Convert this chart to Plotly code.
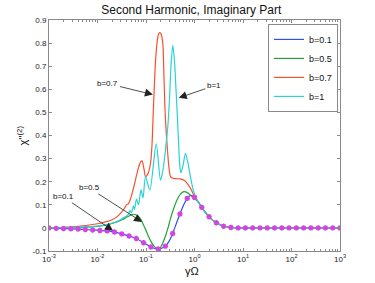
import numpy as np
import plotly.graph_objects as go

# ---------------- data ----------------
tail_x = [1.2, 1.41, 2.0, 2.82, 3.98, 5.62, 7.94, 1000]
tail_y = [0.112, 0.089, 0.048, 0.022, 0.007, 0.002, 0.0, 0.0]

b01_x = [0.001, 0.00141, 0.002, 0.00282, 0.00398, 0.00562, 0.00794, 0.0112, 0.0158,
         0.0224, 0.0316, 0.0447, 0.0631, 0.0891, 0.126, 0.15, 0.178, 0.21, 0.251,
         0.3, 0.355, 0.42, 0.501, 0.6, 0.708, 0.83, 0.93, 1.0] + tail_x
b01_y = [0.0, -0.002, -0.003, -0.004, -0.005, -0.007, -0.009, -0.011, -0.013,
         -0.018, -0.026, -0.035, -0.046, -0.064, -0.083, -0.089, -0.091, -0.088, -0.079,
         -0.057, -0.024, 0.018, 0.06, 0.1, 0.128, 0.141, 0.138, 0.132] + tail_y

b05_x = [0.001, 0.0032, 0.01, 0.0161, 0.0204, 0.0258, 0.0327, 0.0396, 0.0479, 0.0552,
         0.0637, 0.0734, 0.0828, 0.0888, 0.097, 0.106, 0.1238, 0.1428, 0.164, 0.181,
         0.199, 0.222, 0.2522, 0.2843, 0.32, 0.3743, 0.4461, 0.514, 0.6015, 0.684,
         0.788, 0.953] + tail_x
b05_y = [0.0, 0.002, 0.007, 0.014, 0.02, 0.027, 0.036, 0.046, 0.055, 0.059,
         0.056, 0.045, 0.028, 0.012, -0.005, -0.024, -0.055, -0.076, -0.089, -0.09,
         -0.084, -0.065, -0.035, 0.0, 0.04, 0.085, 0.125, 0.146, 0.157, 0.155,
         0.145, 0.13] + tail_y

b07_x = [0.001, 0.0032, 0.01, 0.0161, 0.0204, 0.0258, 0.0313, 0.036, 0.0396, 0.0436,
         0.0502, 0.0579, 0.0668, 0.077, 0.0828, 0.091, 0.0977, 0.11, 0.1238, 0.133,
         0.1394, 0.1462, 0.157, 0.170, 0.181, 0.1924, 0.2056, 0.222, 0.2316, 0.2404,
         0.2522, 0.2735, 0.298, 0.32, 0.3571, 0.4058, 0.514, 0.622, 0.752, 0.867,
         1.0] + tail_x
b07_y = [0.001, 0.005, 0.018, 0.028, 0.036, 0.05, 0.068, 0.085, 0.1, 0.105,
         0.14, 0.19, 0.245, 0.285, 0.29, 0.255, 0.222, 0.235, 0.28, 0.36,
         0.47, 0.58, 0.72, 0.806, 0.838, 0.845, 0.838, 0.8, 0.7, 0.58,
         0.468, 0.352, 0.26, 0.222, 0.215, 0.213, 0.212, 0.205, 0.185, 0.163,
         0.135] + tail_y

b1_x = [0.001, 0.0032, 0.01, 0.0161, 0.0204, 0.0258, 0.0313, 0.036, 0.0396, 0.0436,
        0.0468, 0.0502, 0.0552, 0.0579, 0.0637, 0.07, 0.0789, 0.0868, 0.0977, 0.1198,
        0.1622, 0.199, 0.219, 0.2404, 0.2646, 0.2843, 0.3053, 0.3276, 0.3571, 0.3873,
        0.4155, 0.4461, 0.4742, 0.4973, 0.5266, 0.5796, 0.652, 0.734, 0.828, 0.953,
        1.137] + tail_x[1:]
b1_y = [0.0, 0.002, 0.008, 0.015, 0.021, 0.029, 0.038, 0.046, 0.052, 0.06,
        0.075, 0.066, 0.095, 0.08, 0.125, 0.1, 0.165, 0.13, 0.222, 0.164,
        0.364, 0.207, 0.24, 0.3, 0.38, 0.45, 0.56, 0.7, 0.79, 0.72,
        0.6, 0.47, 0.35, 0.27, 0.238, 0.27, 0.323, 0.28, 0.22, 0.16,
        0.12] + tail_y[1:]

mark_x = [0.001, 0.00141, 0.002, 0.00282, 0.00398, 0.00562, 0.00794, 0.0112, 0.0158,
          0.0224, 0.0316, 0.0447, 0.0631, 0.0891, 0.126, 0.178, 0.251, 0.355, 0.501,
          0.708, 1.0, 1.41, 2.0, 2.82, 3.98, 5.62, 7.94, 11.2, 15.8, 22.4, 31.6, 44.7,
          63.1, 89.1, 126, 178, 251, 355, 501, 708, 1000]
mark_y = [0.0, -0.002, -0.003, -0.004, -0.005, -0.007, -0.009, -0.011, -0.013,
          -0.018, -0.026, -0.035, -0.046, -0.064, -0.083, -0.091, -0.079, -0.024, 0.06,
          0.128, 0.132, 0.089, 0.048, 0.022, 0.007, 0.002, 0.0, 0.0, 0.0, 0.0, 0.0, 0.0,
          0.0, 0.0, 0.0, 0.0, 0.0, 0.0, 0.0, 0.0, 0.0]

x_ticks = [1e-3, 1e-2, 1e-1, 1, 10, 100, 1000]
x_tick_text = ["10<sup>-3</sup>", "10<sup>-2</sup>", "10<sup>-1</sup>", "10<sup>0</sup>",
               "10<sup>1</sup>", "10<sup>2</sup>", "10<sup>3</sup>"]
y_ticks = [-0.1, 0, 0.1, 0.2, 0.3, 0.4, 0.5, 0.6, 0.7, 0.8, 0.9]
y_tick_text = ["-0.1", "0", "0.1", "0.2", "0.3", "0.4", "0.5", "0.6", "0.7", "0.8", "0.9"]

# ---------------- figure ----------------
FONT = "Liberation Sans, Arial, Helvetica, sans-serif"
AX = "#8a8a8a"

fig = go.Figure()
series = [
    ("b=0.1", b01_x, b01_y, "#2f4ff0"),
    ("b=0.5", b05_x, b05_y, "#22a030"),
    ("b=0.7", b07_x, b07_y, "#f8502c"),
    ("b=1", b1_x, b1_y, "#28d2d6"),
]
for name, xs, ys, col in series:
    fig.add_trace(go.Scatter(x=xs, y=ys, mode="lines", name=name,
                             line=dict(color=col, width=1.2, shape="spline", smoothing=0.8)))

fig.add_trace(go.Scatter(x=mark_x, y=mark_y, mode="markers", showlegend=False,
                         marker=dict(symbol="asterisk-open", size=4.5, color="#d245e2",
                                     line=dict(color="#d245e2", width=1.6))))

axis_common = dict(showline=True, linecolor=AX, linewidth=1, mirror="ticks",
                   ticks="inside", ticklen=3, tickcolor=AX, showgrid=False,
                   zeroline=False, tickfont=dict(size=8, color="#222", family=FONT))

fig.update_xaxes(type="log", range=[-3, 3], tickvals=x_ticks, ticktext=x_tick_text,
                 minor=dict(ticks="inside", ticklen=2, tickcolor=AX, dtick="D1", showgrid=False),
                 **axis_common)
fig.update_yaxes(range=[-0.1, 0.9], tickvals=y_ticks, ticktext=y_tick_text, **axis_common)

ann_font = dict(size=8, color="#111", family=FONT)
arrow = dict(showarrow=True, arrowhead=2, arrowsize=2.0, arrowwidth=0.8,
             arrowcolor="#222", axref="pixel", ayref="pixel", font=ann_font)
fig.add_annotation(text="b=0.7", x=np.log10(0.139), y=0.577, ax=-45, ay=-11, **arrow)
fig.add_annotation(text="b=1", x=np.log10(0.474), y=0.563, ax=35, ay=-12, **arrow)
fig.add_annotation(text="b=0.5", x=np.log10(0.0828), y=0.026, ax=-53, ay=-34, **arrow)
fig.add_annotation(text="b=0.1", x=np.log10(0.0209), y=-0.012, ax=-50, ay=-34, **arrow)

fig.add_annotation(text="χ''<sup>(2)</sup>", xref="paper", yref="paper", x=-0.093, y=0.5,
                   xanchor="center", yanchor="middle",
                   textangle=-90, showarrow=False, font=dict(size=11, color="#111", family=FONT))
fig.add_annotation(text="γΩ", xref="paper", yref="paper", x=0.491, y=-0.088,
                   xanchor="center", yanchor="middle",
                   showarrow=False, font=dict(size=11, color="#111", family=FONT))

fig.update_layout(
    width=375, height=283,
    margin=dict(l=49, r=35, t=20, b=32),
    paper_bgcolor="white", plot_bgcolor="white",
    title=dict(text="Second Harmonic, Imaginary Part", x=0.51, xanchor="center",
               y=0.965, yanchor="middle", font=dict(size=12, color="#111", family=FONT)),
    legend=dict(x=0.993, y=0.983, xanchor="right", yanchor="top",
                bgcolor="white", bordercolor=AX, borderwidth=1,
                font=dict(size=9, color="#111", family=FONT),
                tracegroupgap=0, itemwidth=30),
    font=dict(family=FONT),
)

fig.write_html("out.html", config={"displayModeBar": False},
               post_script="document.body.style.margin='0';")
